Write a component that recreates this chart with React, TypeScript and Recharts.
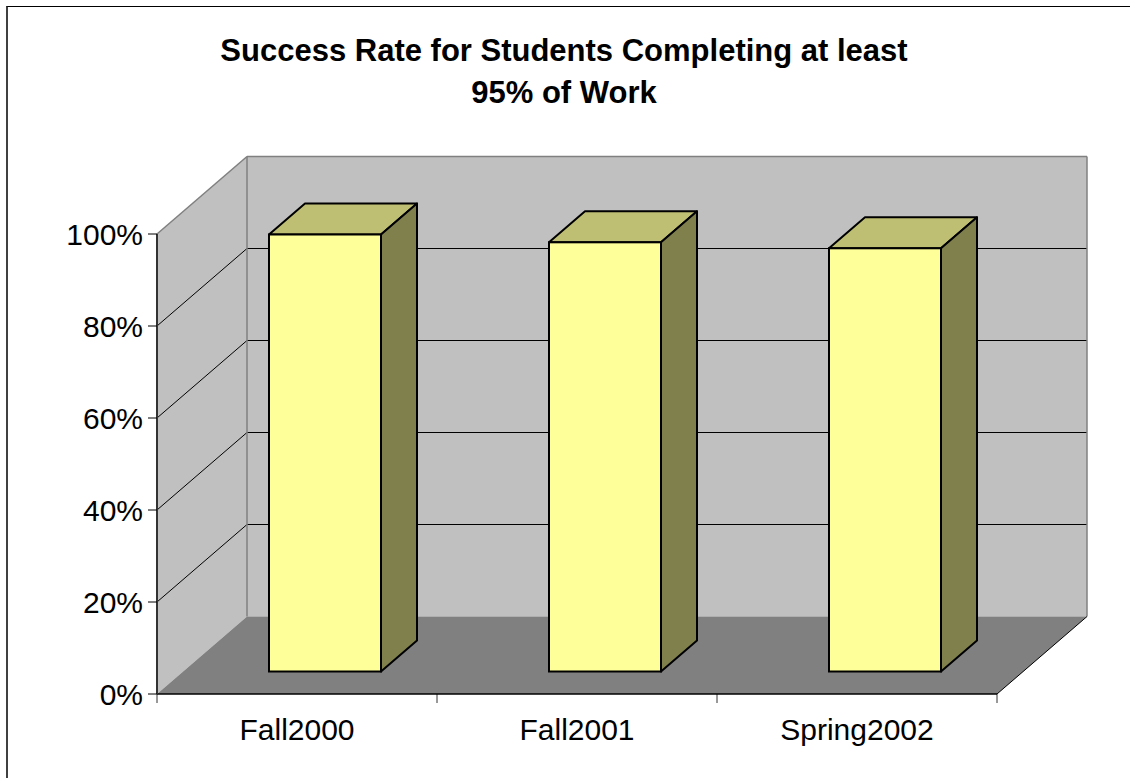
import React from 'react';
import { BarChart, Bar, XAxis, YAxis, ReferenceArea } from 'recharts';

// ---- data ----
const categories = ['Fall2000', 'Fall2001', 'Spring2002'];
const successRates = [0.95, 0.933, 0.92];
const yTicks = [0, 0.2, 0.4, 0.6, 0.8, 1];
const titleLines = ['Success Rate for Students Completing at least', '95% of Work'];

const data = categories.map((c, i) => ({ category: c, rate: successRates[i] }));

// ---- style / geometry constants ----
const FONT = '"Liberation Sans", Arial, sans-serif';
const DEPTH_X = 90;
const DEPTH_Y = -77.5;
const FRONT_SHIFT_X = 28;
const FRONT_SHIFT_Y = -22.5;
const BAR_DX = 36;
const BAR_DY = -31;

const WALL = '#C0C0C0';
const FLOOR = '#808080';
const EDGE = '#808080';
const BAR_FRONT = '#FFFF99';
const BAR_TOP = '#BFBF73';
const BAR_SIDE = '#80804D';

function pts(list: number[][]) {
  return list.map((p) => `${p[0]},${p[1]}`).join(' ');
}

function Walls(props: any) {
  const { x, y, width, height } = props;
  if (x == null || width == null) return null;
  const left = x;
  const right = x + width;
  const top = y;
  const bottom = y + height;
  const dx = DEPTH_X;
  const dy = DEPTH_Y;
  const n = categories.length;
  const yOf = (t: number) => bottom - t * height;
  return (
    <g>
      {/* back wall */}
      <polygon
        points={pts([
          [left + dx, top + dy],
          [right + dx, top + dy],
          [right + dx, bottom + dy],
          [left + dx, bottom + dy],
        ])}
        fill={WALL}
        stroke="none"
      />
      {/* left wall */}
      <polygon
        points={pts([
          [left, bottom],
          [left, top],
          [left + dx, top + dy],
          [left + dx, bottom + dy],
        ])}
        fill={WALL}
        stroke="none"
      />
      {/* gridlines */}
      {yTicks
        .filter((t) => t > 0 && t < 1)
        .map((t) => (
          <g key={t}>
            <line x1={left} y1={yOf(t)} x2={left + dx} y2={yOf(t) + dy} stroke="#000" strokeWidth={1} />
            <line x1={left + dx} y1={yOf(t) + dy} x2={right + dx} y2={yOf(t) + dy} stroke="#000" strokeWidth={1} />
          </g>
        ))}
      {/* floor */}
      <polygon
        points={pts([
          [left, bottom],
          [left + dx, bottom + dy],
          [right + dx, bottom + dy],
          [right, bottom],
        ])}
        fill={FLOOR}
        stroke="none"
      />
      {/* wall edges */}
      <line x1={left} y1={top} x2={left + dx} y2={top + dy} stroke={EDGE} strokeWidth={1.5} />
      <line x1={left + dx} y1={top + dy} x2={right + dx} y2={top + dy} stroke={EDGE} strokeWidth={1.5} />
      <line x1={left + dx} y1={top + dy} x2={left + dx} y2={bottom + dy} stroke={EDGE} strokeWidth={1.5} />
      <line x1={right + dx} y1={top + dy} x2={right + dx} y2={bottom + dy} stroke={EDGE} strokeWidth={1.5} />
      <line x1={right} y1={bottom} x2={right + dx} y2={bottom + dy} stroke="#000" strokeWidth={1} />
      {/* category boundary ticks */}
      {Array.from({ length: n + 1 }).map((_, i) => {
        const tx = left + (i * width) / n;
        return <line key={i} x1={tx} y1={bottom} x2={tx} y2={bottom + 9} stroke="#333" strokeWidth={1} />;
      })}
    </g>
  );
}

function Bar3D(props: any) {
  const { x, y, width, height } = props;
  if (x == null || height == null) return null;
  const fx = x + FRONT_SHIFT_X;
  const fy = y + FRONT_SHIFT_Y;
  const w = width;
  const h = height;
  return (
    <g>
      <polygon
        points={pts([
          [fx, fy],
          [fx + BAR_DX, fy + BAR_DY],
          [fx + w + BAR_DX, fy + BAR_DY],
          [fx + w, fy],
        ])}
        fill={BAR_TOP}
        stroke="#000"
        strokeWidth={2}
        strokeLinejoin="round"
      />
      <polygon
        points={pts([
          [fx + w, fy],
          [fx + w + BAR_DX, fy + BAR_DY],
          [fx + w + BAR_DX, fy + h + BAR_DY],
          [fx + w, fy + h],
        ])}
        fill={BAR_SIDE}
        stroke="#000"
        strokeWidth={2}
        strokeLinejoin="round"
      />
      <rect x={fx} y={fy} width={w} height={h} fill={BAR_FRONT} stroke="#000" strokeWidth={2} />
    </g>
  );
}

export default function App() {
  return (
    <div
      style={{
        position: 'absolute',
        left: 0,
        top: 0,
        width: 1130,
        height: 778,
        background: '#fff',
        overflow: 'hidden',
        fontFamily: FONT,
      }}
    >
      <div
        style={{
          position: 'absolute',
          left: 6,
          top: 6,
          width: 1200,
          height: 900,
          borderTop: '1px solid #000',
          borderLeft: '2px solid #404040',
        }}
      />
      <BarChart
        width={1130}
        height={778}
        data={data}
        margin={{ top: 234, right: 133, bottom: 24, left: 57 }}
        barCategoryGap="30%"
      >
        <ReferenceArea y1={0} y2={1} shape={<Walls />} isFront={false} />
        <XAxis
          dataKey="category"
          height={60}
          axisLine={{ stroke: '#000', strokeWidth: 1.5 }}
          tickLine={false}
          tickSize={0}
          tickMargin={25}
          tick={{ fontSize: 30, fill: '#000', fontFamily: FONT }}
        />
        <YAxis
          type="number"
          domain={[0, 1]}
          ticks={yTicks}
          width={100}
          axisLine={{ stroke: '#333', strokeWidth: 2 }}
          tickLine={{ stroke: '#000', strokeWidth: 1 }}
          tickSize={9}
          tickMargin={5}
          tickFormatter={(v: number) => `${Math.round(v * 100)}%`}
          tick={{ fontSize: 30, fill: '#000', fontFamily: FONT }}
          interval={0}
        />
        <Bar dataKey="rate" shape={<Bar3D />} isAnimationActive={false} />
      </BarChart>
      <div
        style={{
          position: 'absolute',
          left: 0,
          top: 30,
          width: 1128,
          textAlign: 'center',
          fontFamily: FONT,
          fontWeight: 'bold',
          fontSize: 31,
          lineHeight: '41.6px',
          color: '#000',
        }}
      >
        {titleLines.map((l) => (
          <div key={l}>{l}</div>
        ))}
      </div>
    </div>
  );
}
